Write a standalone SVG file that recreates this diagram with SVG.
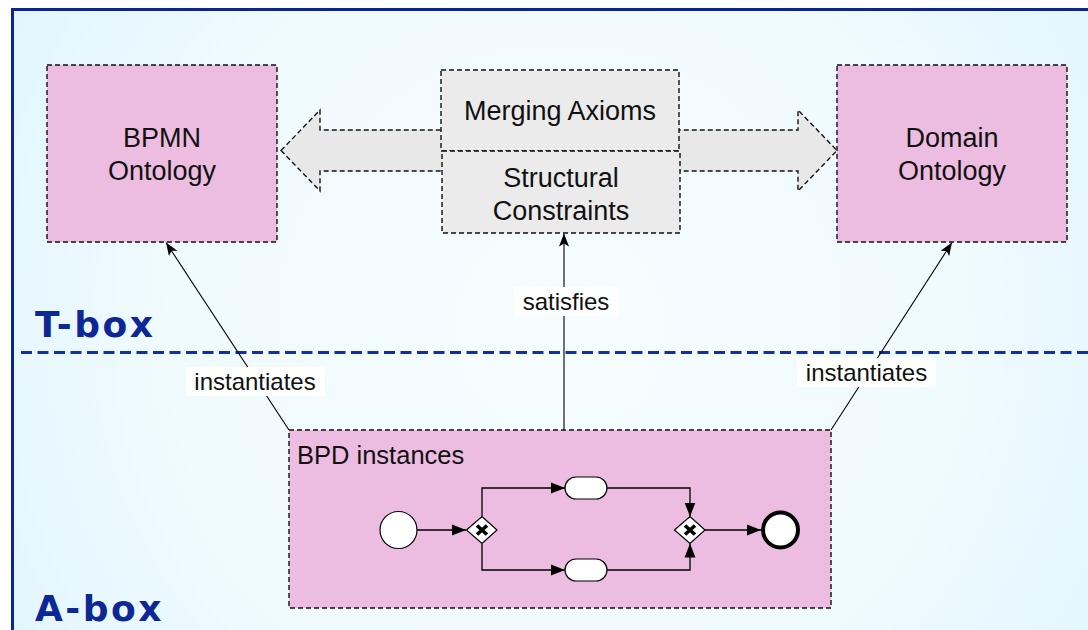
<svg xmlns="http://www.w3.org/2000/svg" width="1088" height="630" viewBox="0 0 1088 630">
<defs>
<radialGradient id="bg" cx="560" cy="330" r="640" gradientUnits="userSpaceOnUse">
<stop offset="0" stop-color="#f6fdff"/>
<stop offset="0.6" stop-color="#f0fbff"/>
<stop offset="1" stop-color="#e2f6fd"/>
</radialGradient>
<marker id="arr" markerUnits="userSpaceOnUse" markerWidth="14" markerHeight="10" refX="13" refY="5" orient="auto">
<path d="M0,0 L13,5 L0,10 L3,5 z" fill="#000"/>
</marker>
<marker id="barr" markerUnits="userSpaceOnUse" markerWidth="15" markerHeight="12" refX="14" refY="6" orient="auto">
<path d="M0,0.5 L14,6 L0,11.5 z" fill="#000"/>
</marker>
</defs>
<style>
.box{fill:#ecbde0;stroke:#111;stroke-width:1.4;stroke-dasharray:5,3}
.gbox{fill:#ebebeb;stroke:#111;stroke-width:1.4;stroke-dasharray:5,3}
.blk{fill:#e8e8e8;stroke:#111;stroke-width:1.4;stroke-dasharray:5,3}
.t{font-family:"Liberation Sans",Arial,Helvetica,sans-serif;font-size:27px;fill:#111}
.lbl{font-family:"Liberation Sans",Arial,Helvetica,sans-serif;font-size:24px;fill:#111}
.box-title{font-family:"DejaVu Sans",Verdana,sans-serif;font-weight:bold;font-size:36px;letter-spacing:2.5px;fill:#0d2896}
.ln{stroke:#000;stroke-width:1.1;fill:none}
.fl{stroke:#000;stroke-width:1.3;fill:none}
.ev{fill:#fff;stroke:#000;stroke-width:1.2}
.task{fill:#fff;stroke:#000;stroke-width:1.2}
.gw{fill:#fff;stroke:#000;stroke-width:1.2}
.gx{stroke:#000;stroke-width:3.6;fill:none}
</style>
<rect x="0" y="0" width="1088" height="630" fill="#ffffff"/>
<rect x="12.5" y="9.5" width="1090" height="640" fill="url(#bg)" stroke="#0a249a" stroke-width="3"/>
<line x1="21" y1="352.5" x2="1088" y2="352.5" stroke="#12309e" stroke-width="3" stroke-dasharray="11,5.5"/>
<text class="box-title" x="35" y="336.5">T-box</text>
<text class="box-title" x="35" y="620.5">A-box</text>

<g id="connectors">
<polygon class="blk" points="281,150.5 320,110 320,130 798,130 798,110 837,150.5 798,191 798,171 320,171 320,191"/>
<line class="ln" x1="289" y1="430" x2="166" y2="242.5" marker-end="url(#arr)"/>
<line class="ln" x1="831" y1="430" x2="952" y2="242.5" marker-end="url(#arr)"/>
<line class="ln" x1="564" y1="430" x2="564" y2="233.5" marker-end="url(#arr)"/>
<rect x="186" y="367" width="139" height="29" fill="#fff"/>
<text class="lbl" x="255" y="390" text-anchor="middle">instantiates</text>
<rect x="797" y="358" width="139" height="29" fill="#fff"/>
<text class="lbl" x="866.5" y="381" text-anchor="middle">instantiates</text>
<rect x="514" y="287" width="104" height="29" fill="#fff"/>
<text class="lbl" x="566" y="310" text-anchor="middle">satisfies</text>
</g>

<g id="bpmn-ontology">
<rect class="box" x="47" y="65" width="230" height="177"/>
<text class="t" x="162" y="147" text-anchor="middle">BPMN</text>
<text class="t" x="162" y="180" text-anchor="middle">Ontology</text>
</g>

<g id="domain-ontology">
<rect class="box" x="837" y="65" width="230" height="177"/>
<text class="t" x="952" y="147" text-anchor="middle">Domain</text>
<text class="t" x="952" y="180" text-anchor="middle">Ontology</text>
</g>

<g id="merging-axioms">
<rect class="gbox" x="441" y="70" width="238" height="81"/>
<text class="t" x="560" y="120" text-anchor="middle">Merging Axioms</text>
</g>

<g id="structural-constraints">
<rect class="gbox" x="442" y="151" width="238" height="82"/>
<text class="t" x="561" y="187" text-anchor="middle">Structural</text>
<text class="t" x="561" y="220" text-anchor="middle">Constraints</text>
</g>

<g id="bpd-instances">
<rect class="box" x="289" y="430" width="542" height="178"/>
<text class="t" x="297" y="464" style="font-size:25.5px">BPD instances</text>
<path class="fl" d="M417,530 H466" marker-end="url(#barr)"/>
<path class="fl" d="M482,516 V488 H565" marker-end="url(#barr)"/>
<path class="fl" d="M482,544 V570 H565" marker-end="url(#barr)"/>
<path class="fl" d="M607,488 H690 V516.5" marker-end="url(#barr)"/>
<path class="fl" d="M607,570 H690 V543.5" marker-end="url(#barr)"/>
<path class="fl" d="M705,530 H761" marker-end="url(#barr)"/>
<circle class="ev" cx="398.5" cy="530" r="18.5"/>
<rect class="task" x="565" y="477" width="42" height="22" rx="11"/>
<rect class="task" x="565" y="559" width="42" height="22" rx="11"/>
<polygon class="gw" points="466.5,530 482,516.5 497,530 482,543.5"/>
<path class="gx" d="M477,525.5 L487,534.5 M487,525.5 L477,534.5"/>
<polygon class="gw" points="674.5,530 690,516.5 705,530 690,543.5"/>
<path class="gx" d="M685,525.5 L695,534.5 M695,525.5 L685,534.5"/>
<circle cx="780.5" cy="530" r="17.5" fill="#fff" stroke="#000" stroke-width="4"/>
</g>
</svg>
